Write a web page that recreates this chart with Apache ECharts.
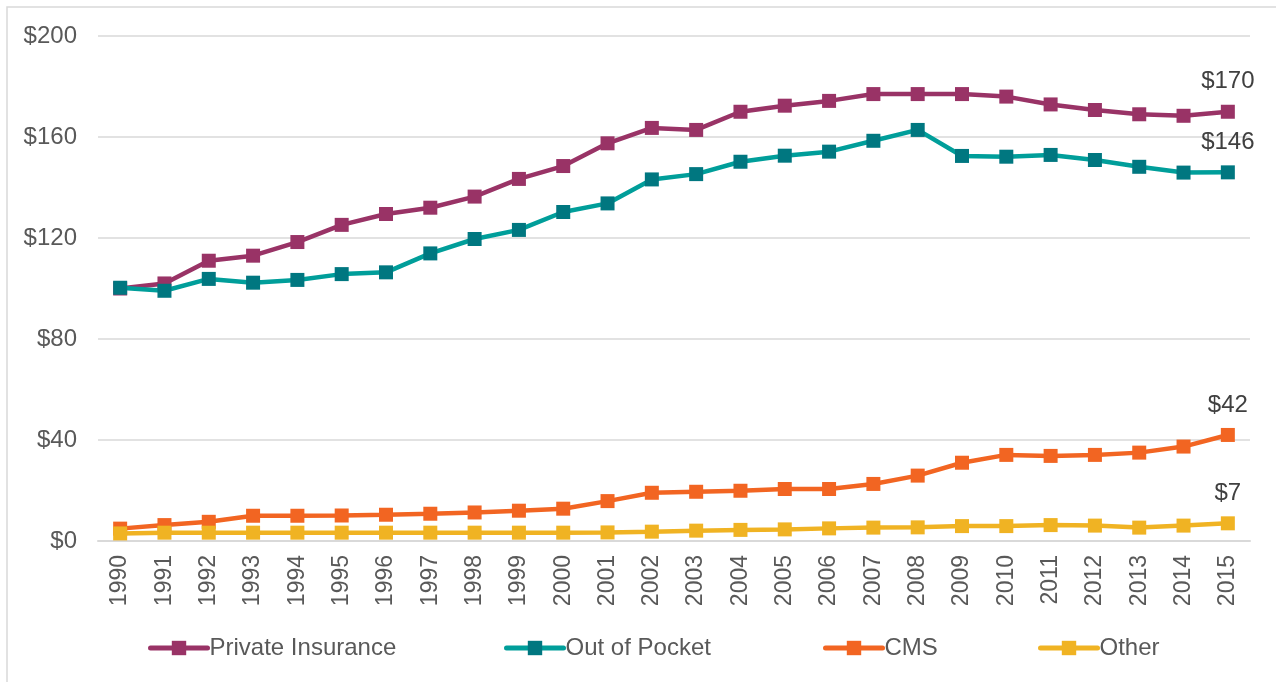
<!DOCTYPE html>
<html>
<head>
<meta charset="utf-8">
<script src="https://cdn.jsdelivr.net/npm/echarts@6/dist/echarts.min.js"></script>
<style>
html,body{margin:0;padding:0;background:#fff;}
#chart{width:1276px;height:682px;}
</style>
</head>
<body>
<div id="chart"></div>
<script>
const years = ['1990','1991','1992','1993','1994','1995','1996','1997','1998','1999','2000','2001','2002','2003','2004','2005','2006','2007','2008','2009','2010','2011','2012','2013','2014','2015'];
const yTicks = [0, 40, 80, 120, 160, 200];
const privateInsurance = [100,102,111,113,118.4,125.2,129.5,132,136.4,143.4,148.5,157.5,163.6,162.8,170,172.4,174.3,177,177,177,176,172.9,170.7,169,168.4,170];
const outOfPocket = [100.3,99.1,103.8,102.3,103.4,105.7,106.4,113.9,119.6,123.2,130.3,133.7,143.2,145.3,150.2,152.6,154.2,158.5,162.8,152.5,152.2,152.9,150.9,148.2,145.9,146];
const cms = [4.9,6.3,7.6,10,10,10.1,10.4,10.8,11.3,12,12.8,15.8,19.1,19.5,19.9,20.6,20.6,22.6,25.9,31,34.1,33.7,34.1,35,37.4,42];
const other = [3,3.3,3.3,3.3,3.3,3.3,3.3,3.3,3.3,3.3,3.3,3.4,3.7,4.1,4.4,4.6,5,5.3,5.4,5.9,5.9,6.3,6.1,5.3,6.1,7];
const seriesNames = ['Private Insurance','Out of Pocket','CMS','Other'];
const endLabels = ['$170','$146','$42','$7'];

const FONT = 'Liberation Sans, Arial, sans-serif';
const lineColors = ['#993366','#009E9A','#F26522','#F0B323'];
const markColors = ['#993366','#007780','#F26522','#F0B323'];
const allData = [privateInsurance, outOfPocket, cms, other];

const chart = echarts.init(document.getElementById('chart'));

const series = allData.map((d, i) => ({
  name: seriesNames[i],
  type: 'line',
  data: d,
  symbol: 'rect',
  symbolSize: 14,
  lineStyle: { color: lineColors[i], width: 4.5, cap: 'round' },
  itemStyle: { color: markColors[i], borderWidth: 0 },
  emphasis: { disabled: true },
  label: {
    show: true,
    position: 'top',
    distance: 11,
    fontFamily: FONT,
    fontSize: 24,
    color: '#404040',
    formatter: p => p.dataIndex === d.length - 1 ? endLabels[i] : ''
  },
  z: 2 + i
}));

const legendLefts = [148, 504, 823, 1038];
const legends = seriesNames.map((n, i) => ({
  data: [n],
  left: legendLefts[i],
  top: 636,
  padding: 0,
  itemWidth: 57,
  itemHeight: 18,
  selectedMode: false,
  lineStyle: { width: 5, cap: 'round' },
  textStyle: { fontFamily: FONT, fontSize: 24, color: '#595959', padding: [0,0,0,-3] }
}));

chart.setOption({
  animation: false,
  backgroundColor: '#fff',
  grid: { left: 98, right: 26, top: 36, bottom: 141, containLabel: false },
  legend: legends,
  xAxis: {
    type: 'category',
    data: years,
    boundaryGap: true,
    axisLine: { lineStyle: { color: '#d9d9d9', width: 2 } },
    axisTick: { show: false },
    axisLabel: { rotate: 90, fontFamily: FONT, fontSize: 23, color: '#595959', margin: 14, interval: 0 }
  },
  yAxis: {
    type: 'value',
    min: yTicks[0],
    max: yTicks[yTicks.length - 1],
    interval: yTicks[1] - yTicks[0],
    axisLine: { show: false },
    axisTick: { show: false },
    splitLine: { lineStyle: { color: '#d9d9d9', width: 1.5 } },
    axisLabel: { fontFamily: FONT, fontSize: 24, color: '#595959', margin: 21, formatter: v => '$' + v }
  },
  graphic: [{
    type: 'rect',
    shape: { x: 7, y: 7, width: 1300, height: 700 },
    style: { fill: 'none', stroke: '#d9d9d9', lineWidth: 1.5 },
    silent: true, z: -10
  }],
  series: series
});
</script>
</body>
</html>
